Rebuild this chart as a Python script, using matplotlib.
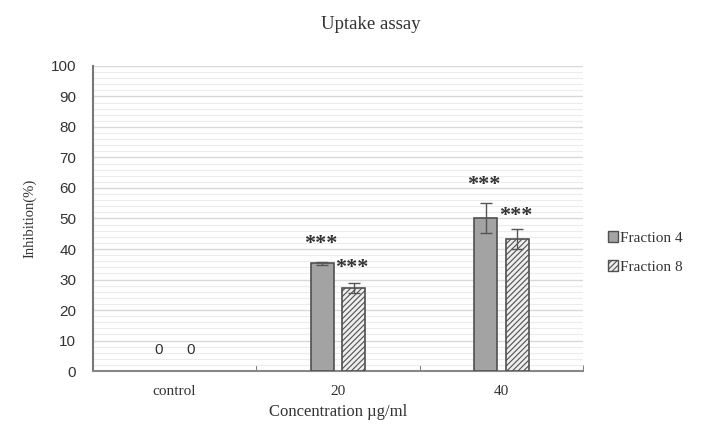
import matplotlib
matplotlib.use("Agg")
import matplotlib.pyplot as plt
import numpy as np
from matplotlib.patches import Patch

categories = ["control", "20", "40"]
series_names = ["Fraction 4", "Fraction 8"]
frac4 = [0, 35.4, 50.2]
frac8 = [0, 27.2, 43.3]
frac4_err = [0, 0.5, 5.0]
frac8_err = [0, 1.6, 3.2]
frac4_labels = ["0", "***", "***"]
frac8_labels = ["0", "***", "***"]
yticks = list(range(0, 101, 10))

serif = "Liberation Serif"
sans = "Liberation Sans"
plt.rcParams['hatch.color'] = "#8a8a8a"
plt.rcParams['hatch.linewidth'] = 0.8

fig = plt.figure(figsize=(7.2, 4.28), dpi=100)
ax = fig.add_axes([0.129, 0.133, 0.681, 0.713])

x = np.arange(len(categories))
w = 0.14
off = 0.097
lw4 = [0 if v == 0 else 1.2 for v in frac4]
lw8 = [0 if v == 0 else 1.2 for v in frac8]
ax.bar(x - off, frac4, w, color="#a3a3a3", edgecolor="#505050", linewidth=lw4, zorder=3)
ax.bar(x + off, frac8, w, color="#eeeeee", edgecolor="#505050", linewidth=lw8, hatch="//////", zorder=3)

for xs, vals, errs in [(x - off, frac4, frac4_err), (x + off, frac8, frac8_err)]:
    for xi, v, e in zip(xs, vals, errs):
        if e > 0:
            ax.errorbar(xi, v, yerr=e, fmt="none", ecolor="#555555", elinewidth=1,
                        capsize=4, capthick=1, zorder=4)

# labels
star_kw = dict(ha="center", va="bottom", fontsize=16, family=serif, color="#333333", fontweight="bold")
for i in range(len(categories)):
    if frac4_labels[i] == "0":
        ax.text(x[i] - off, 4.5, "0", ha="center", va="bottom", fontsize=11, family=sans, color="#333333")
        ax.text(x[i] + off, 4.5, "0", ha="center", va="bottom", fontsize=11, family=sans, color="#333333")
    else:
        y4 = frac4[i] + frac4_err[i] + 2.5 if i == 2 else frac4[i] + 3.0
        y8 = frac8[i] + frac8_err[i] + 1.0 if i == 2 else frac4[i] - 5.0
        ax.text(x[i] - off - 0.01, y4, frac4_labels[i], **star_kw)
        ax.text(x[i] + off - 0.01, y8, frac8_labels[i], **star_kw)

ax.set_xlim(-0.5, 2.5)
ax.set_ylim(0, 100)
ax.set_yticks(yticks)
ax.set_yticks(np.arange(0, 101, 2), minor=True)
ax.yaxis.grid(True, which="major", color="#d8d8d8", linewidth=1.0, zorder=0)
ax.yaxis.grid(True, which="minor", color="#ececec", linewidth=0.8, zorder=0)
ax.set_axisbelow(True)

ax.set_xticks(x)
ax.set_xticklabels(categories, family=serif, fontsize=11, color="#333333")
ax.set_xticks([0.5, 1.5, 2.5], minor=True)
ax.tick_params(axis="x", which="major", length=0, pad=10)
ax.tick_params(axis="x", which="minor", length=4, color="#666666", direction="in")
ax.tick_params(axis="y", which="both", length=0, pad=12)
for lbl in ax.get_yticklabels():
    lbl.set_family(sans)
    lbl.set_fontsize(11)
    lbl.set_color("#333333")

for s in ["top", "right"]:
    ax.spines[s].set_visible(False)
ax.spines["left"].set_color("#777777")
ax.spines["left"].set_linewidth(1.5)
ax.spines["bottom"].set_color("#888888")
ax.spines["bottom"].set_linewidth(1.5)

ax.set_xlabel("Concentration µg/ml", family=serif, fontsize=12, color="#333333", labelpad=4)
ax.set_ylabel("Inhibition(%)", family=serif, fontsize=10.5, color="#333333", labelpad=10)
fig.text(0.515, 0.942, "Uptake assay", ha="center", va="center", family=serif, fontsize=13.5, color="#333333")

handles = [Patch(facecolor="#a3a3a3", edgecolor="#505050"),
           Patch(facecolor="#eeeeee", edgecolor="#505050", hatch="//////")]
leg = fig.legend(handles, series_names, loc="center left", bbox_to_anchor=(0.825, 0.41),
                 frameon=False, prop=dict(family=serif, size=11), handlelength=0.7,
                 handleheight=0.7, handletextpad=0.1, labelspacing=1.0)
for t in leg.get_texts():
    t.set_color("#333333")

fig.savefig("out.png", dpi=100, facecolor="white")
